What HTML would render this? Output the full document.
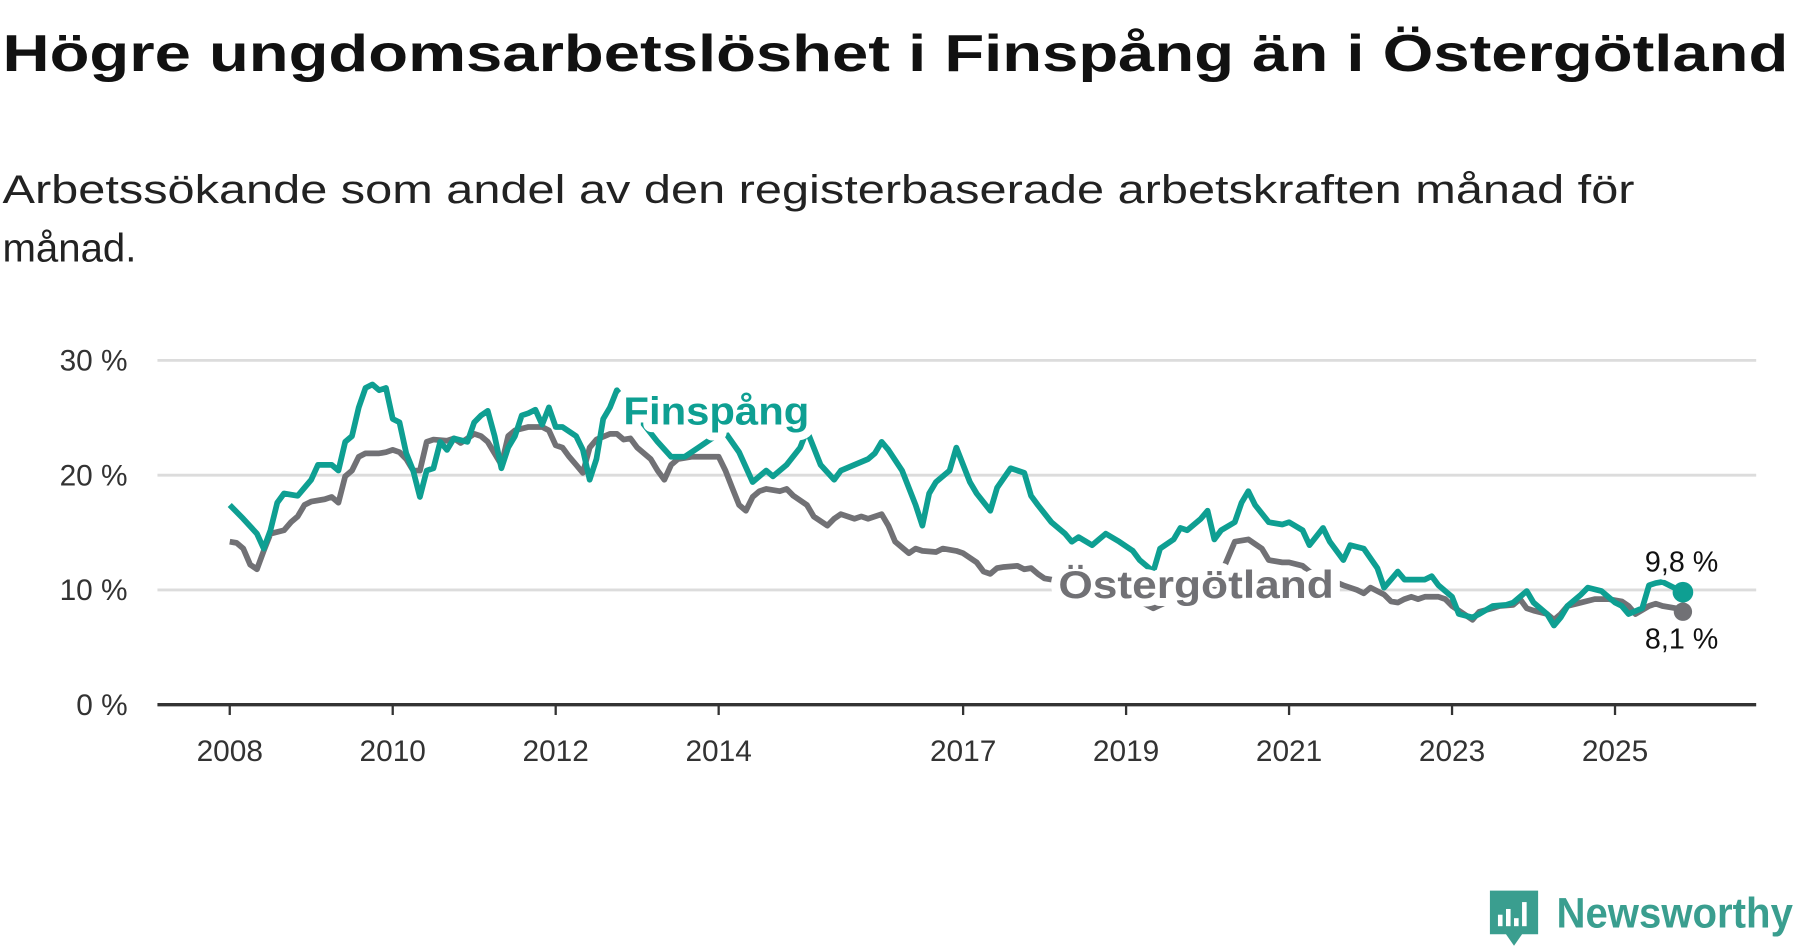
<!DOCTYPE html>
<html><head><meta charset="utf-8"><style>
html,body{margin:0;padding:0;background:#fff;}
svg{display:block;font-family:"Liberation Sans",sans-serif;}
</style></head><body>
<svg id="chart" width="1800" height="948" viewBox="0 0 1568 826" xmlns="http://www.w3.org/2000/svg">
<text x="2" y="62" font-size="45" font-weight="bold" fill="#111" textLength="1556" lengthAdjust="spacingAndGlyphs">Högre ungdomsarbetslöshet i Finspång än i Östergötland</text>
<text x="2" y="177" font-size="35" fill="#222" textLength="1422" lengthAdjust="spacingAndGlyphs">Arbetssökande som andel av den registerbaserade arbetskraften månad för</text>
<text x="2" y="228" font-size="35" fill="#222">månad.</text>
<g id="grid"></g>
<g id="yaxis"></g>
<g id="xaxis"></g>
<g id="series"></g>
<g id="labels"></g>
<g>
<path d="M1298 776 h42 v38 h-14 l-7 10 l-7 -10 h-14 z" fill="#3a9e8f"/>
<rect x="1305" y="797" width="4" height="10" fill="#fff"/>
<rect x="1312" y="792" width="4" height="15" fill="#fff"/>
<rect x="1319" y="800" width="4" height="7" fill="#fff"/>
<rect x="1326" y="786" width="4" height="21" fill="#fff"/>
<text x="1356" y="808" font-size="37" font-weight="bold" fill="#3a9e8f" textLength="206" lengthAdjust="spacingAndGlyphs">Newsworthy</text>
</g>
</svg>
<script>
const yTicks = [0, 10, 20, 30];
const yTickLabels = ["0 %", "10 %", "20 %", "30 %"];
const xTickYears = [2008, 2010, 2012, 2014, 2017, 2019, 2021, 2023, 2025];
const finMonths = [0,2,4,5,6,7,8,10,11,12,13,15,16,17,18,19,20,21,22,23,24,25,26,27,28,29,30,31,32,33,35,36,37,38,39,40,41,42,43,44,45,46,47,48,49,51,52,53,54,55,56,57,63,65,67,69,71,73,75,77,79,80,82,84,85,87,89,90,92,94,95,96,97,99,101,102,103,104,106,107,108,109,110,112,113,115,117,118,119,121,123,124,125,127,128,129,131,133,134,136,137,139,140,141,143,144,145,146,148,149,150,151,153,155,156,158,159,161,162,164,165,167,169,170,171,172,173,176,177,178,180,181,183,184,186,188,189,191,192,194,195,196,197,199,200,202,204,205,206,208,209,210,211,214];
const finValues = [17.4,16.2,14.9,13.6,15.2,17.6,18.4,18.2,18.9,19.6,20.9,20.9,20.4,22.9,23.4,25.9,27.6,27.9,27.4,27.6,24.9,24.6,21.9,20.4,18.1,20.4,20.6,22.9,22.2,23.2,22.9,24.6,25.2,25.6,23.4,20.6,22.4,23.4,25.2,25.4,25.7,24.4,25.9,24.2,24.2,23.4,22.2,19.6,21.4,24.9,25.9,27.4,22.9,21.6,21.6,22.4,23.2,23.7,22.0,19.4,20.4,19.9,20.9,22.4,23.9,20.9,19.6,20.4,20.9,21.4,21.9,22.9,22.2,20.4,17.4,15.6,18.4,19.4,20.4,22.4,20.9,19.4,18.4,16.9,18.9,20.6,20.2,18.2,17.4,15.9,14.9,14.2,14.6,13.9,14.4,14.9,14.2,13.4,12.6,11.6,13.6,14.4,15.4,15.2,16.2,16.9,14.4,15.2,15.9,17.6,18.6,17.4,15.9,15.7,15.9,15.2,13.9,15.4,14.2,12.6,13.9,13.6,11.9,10.2,10.9,11.6,10.9,10.9,11.2,10.4,9.4,7.9,7.6,7.9,8.6,8.7,8.9,9.9,8.9,7.9,6.9,7.6,8.6,9.6,10.2,9.9,8.9,8.6,7.9,8.4,10.4,10.6,10.7,9.8];
const ostMonths = [0,1,2,3,4,5,6,8,9,10,11,12,14,15,16,17,18,19,20,22,23,24,25,26,27,28,29,30,32,33,34,36,37,38,40,41,42,44,46,47,48,49,50,51,52,53,54,56,57,58,59,60,62,63,64,65,66,68,69,71,72,73,74,75,76,77,78,79,81,82,83,85,86,88,89,90,92,93,94,96,97,98,100,101,102,104,105,107,108,110,111,112,113,114,116,117,118,119,120,121,127,132,136,140,145,148,150,152,153,155,156,158,159,162,164,166,167,168,170,171,172,173,174,175,176,178,179,180,182,183,184,186,187,189,190,191,192,194,195,196,197,199,201,202,203,205,206,207,209,210,211,213,214];
const ostValues = [14.2,14.1,13.6,12.2,11.8,13.4,14.9,15.2,15.9,16.4,17.4,17.7,17.9,18.1,17.6,19.9,20.4,21.6,21.9,21.9,22.0,22.2,22.0,21.4,20.4,20.4,22.9,23.1,23.0,23.2,22.8,23.6,23.4,22.9,20.9,23.4,23.9,24.2,24.2,23.9,22.6,22.4,21.6,20.9,20.2,22.4,23.1,23.6,23.6,23.1,23.2,22.4,21.4,20.4,19.6,20.9,21.4,21.6,21.6,21.6,21.6,20.4,18.9,17.4,16.9,18.1,18.6,18.8,18.6,18.8,18.2,17.4,16.4,15.6,16.2,16.6,16.2,16.4,16.2,16.6,15.6,14.2,13.2,13.6,13.4,13.3,13.6,13.4,13.2,12.4,11.6,11.4,11.9,12.0,12.1,11.8,11.9,11.4,11.0,10.9,10.6,9.6,8.4,9.5,10.0,14.2,14.4,13.6,12.6,12.4,12.4,12.1,11.6,10.9,10.4,10.0,9.7,10.2,9.6,9.0,8.9,9.2,9.4,9.2,9.4,9.4,9.2,8.6,7.8,7.4,8.1,8.4,8.6,8.7,9.2,8.4,8.2,7.9,7.4,7.9,8.6,8.9,9.2,9.2,9.2,9.0,8.6,7.9,8.6,8.8,8.6,8.4,8.1];

const NS = "http://www.w3.org/2000/svg";
const X0 = 137, X1 = 1530, Y0 = 614;
function xScale(m){ return 200 + m * 71 / 12; }
function xYear(y){ return xScale((y - 2008) * 12); }
function yScale(v){ return Y0 - v * 10; }
function mk(tag, attrs, parent){ const e = document.createElementNS(NS, tag); for (const k in attrs) e.setAttribute(k, attrs[k]); parent.appendChild(e); return e; }

const grid = document.getElementById('grid'), yaxis = document.getElementById('yaxis'), xaxis = document.getElementById('xaxis');
yTicks.forEach((v, i) => {
  if (v > 0) {
    const g = mk('line', {x1: X0, x2: X1, y1: yScale(v), y2: yScale(v), stroke: '#dcdcdc', 'stroke-width': 2.5}, grid);
    
    
  }
  const t = mk('text', {x: 111, y: yScale(v) + 9, 'text-anchor': 'end', 'font-size': 26, fill: '#333'}, yaxis);
  t.textContent = yTickLabels[i];
  
  
});
const ax = mk('line', {x1: X0, x2: X1, y1: Y0, y2: Y0, stroke: '#333', 'stroke-width': 3}, xaxis);


xTickYears.forEach(y => {
  const x = xYear(y);
  const tk = mk('line', {x1: x, x2: x, y1: Y0, y2: Y0 + 9, stroke: '#333', 'stroke-width': 2}, xaxis);
  
  
  const t = mk('text', {x: x, y: 663, 'text-anchor': 'middle', 'font-size': 26, fill: '#333'}, xaxis);
  t.textContent = y;
  
  
});

const series = document.getElementById('series');
function path(ms, vs){ return ms.map((m, i) => (i ? 'L' : 'M') + xScale(m).toFixed(1) + ' ' + yScale(vs[i]).toFixed(1)).join(' '); }
const lo = mk('path', {d: path(ostMonths, ostValues), fill: 'none', stroke: '#717175', 'stroke-width': 5, 'stroke-linejoin': 'round'}, series);


const lf = mk('path', {d: path(finMonths, finValues), fill: 'none', stroke: '#0e9f92', 'stroke-width': 5, 'stroke-linejoin': 'round'}, series);


const lastO = ostValues.length - 1, lastF = finValues.length - 1;
const dO = mk('circle', {cx: xScale(ostMonths[lastO]), cy: yScale(ostValues[lastO]), r: 8, fill: '#717175'}, series);


const dF = mk('circle', {cx: xScale(finMonths[lastF]), cy: yScale(finValues[lastF]), r: 9, fill: '#0e9f92'}, series);



const labels = document.getElementById('labels');
function lbl(txt, x, y, size, color, bold, anchor, len, halo){
  const t = mk('text', {x: x, y: y, 'font-size': size, fill: color, 'font-weight': bold ? 'bold' : 'normal', stroke: '#fff', 'stroke-width': halo, 'paint-order': 'stroke', 'stroke-linejoin': 'round', 'text-anchor': anchor || 'start'}, labels);
  if (len) { t.setAttribute('textLength', len); t.setAttribute('lengthAdjust', 'spacingAndGlyphs'); }
  t.textContent = txt;
  return t;
}
const l1 = lbl('Finspång', 543, 370, 34, '#0e9f92', true, 'start', 162, 14);


const l2 = lbl('Östergötland', 922, 521, 34, '#717175', true, 'start', 240, 14);


const l3 = lbl(finValues[lastF].toFixed(1).replace('.', ',') + ' %', 1465, 498, 25, '#111', false, 'middle', 0, 8);


const l4 = lbl(ostValues[lastO].toFixed(1).replace('.', ',') + ' %', 1465, 565, 25, '#111', false, 'middle', 0, 8);


</script>
</body></html>
